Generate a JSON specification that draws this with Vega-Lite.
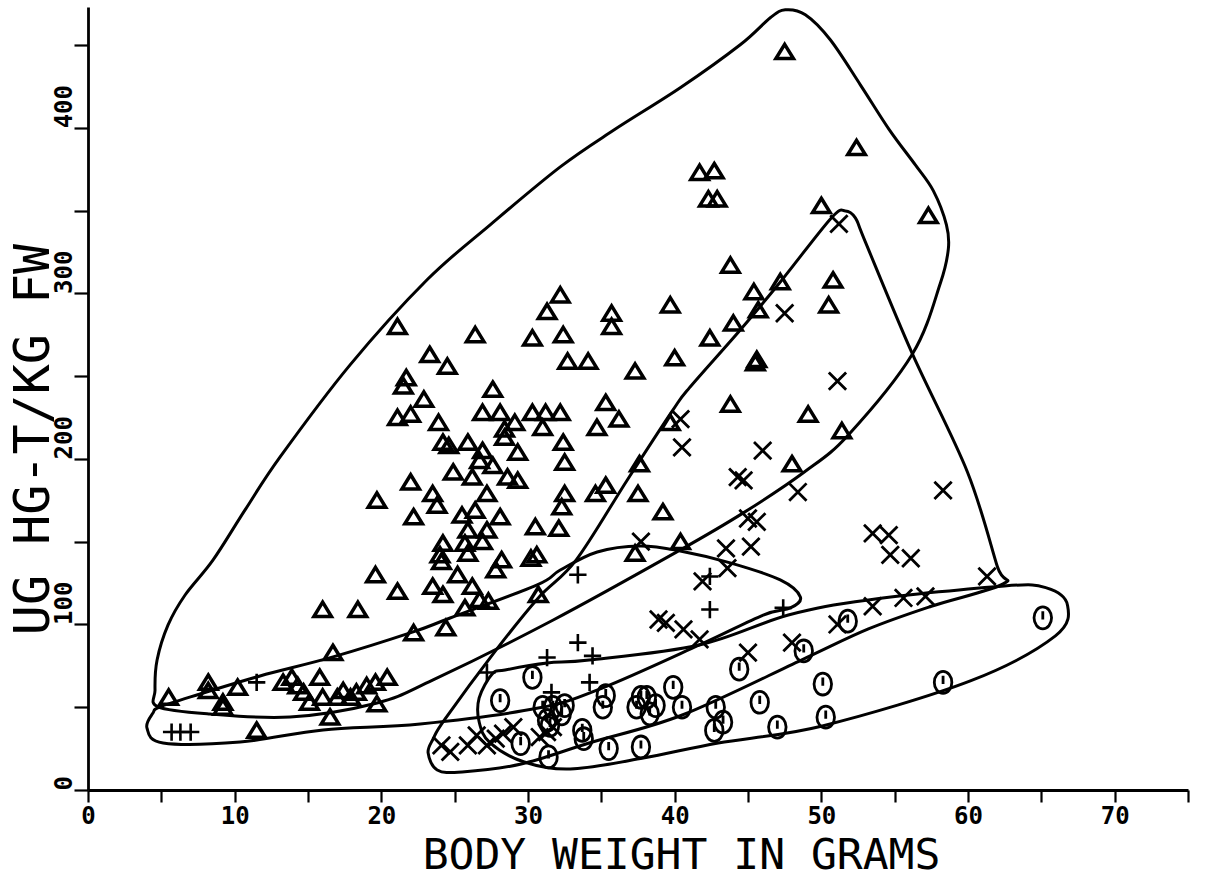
{
 "$schema": "https://vega.github.io/schema/vega-lite/v6.json",
 "width": 1100, "height": 783,
 "autosize": {"type": "none"},
 "padding": {"left": 88, "top": 7, "right": 22, "bottom": 88},
 "background": "white",
 "config": {"view": {"stroke": null}, "axis": {"grid": false, "domainColor": "black", "domainWidth": 2.8, "tickColor": "black", "tickWidth": 2.2, "labelColor": "black", "titleColor": "black", "labelFont": "DejaVu Sans Mono", "labelFontWeight": "bold", "titleFont": "DejaVu Sans Mono", "titleFontWeight": "normal"}},
 "datasets": {
  "hulls": [
   {"h":"A","o":1,"w":4.77,"hg":50.2},{"h":"A","o":2,"w":4.57,"hg":60.4},{"h":"A","o":3,"w":4.71,"hg":78.5},{"h":"A","o":4,"w":5.46,"hg":99.7},{"h":"A","o":5,"w":6.62,"hg":117.8},{"h":"A","o":6,"w":8.53,"hg":139.0},{"h":"A","o":7,"w":10.71,"hg":169.2},{"h":"A","o":8,"w":13.1,"hg":201.2},{"h":"A","o":9,"w":17.87,"hg":256.8},{"h":"A","o":10,"w":23.12,"hg":308.2},{"h":"A","o":11,"w":27.42,"hg":341.4},{"h":"A","o":12,"w":32.2,"hg":376.4},{"h":"A","o":13,"w":35.88,"hg":398.8},{"h":"A","o":14,"w":40.38,"hg":424.2},{"h":"A","o":15,"w":44.47,"hg":450.2},{"h":"A","o":16,"w":46.52,"hg":466.5},{"h":"A","o":17,"w":47.54,"hg":471.3},{"h":"A","o":18,"w":48.91,"hg":468.3},{"h":"A","o":19,"w":50.61,"hg":453.2},{"h":"A","o":20,"w":52.66,"hg":426.0},{"h":"A","o":21,"w":54.64,"hg":398.8},{"h":"A","o":22,"w":56.41,"hg":377.6},{"h":"A","o":23,"w":57.64,"hg":361.9},{"h":"A","o":24,"w":58.53,"hg":341.4},{"h":"A","o":25,"w":58.66,"hg":326.9},{"h":"A","o":26,"w":58.12,"hg":306.3},{"h":"A","o":27,"w":56.21,"hg":263.4},{"h":"A","o":28,"w":51.84,"hg":214.5},{"h":"A","o":29,"w":48.84,"hg":192.1},{"h":"A","o":30,"w":44.68,"hg":167.4},{"h":"A","o":31,"w":40.38,"hg":145.0},{"h":"A","o":32,"w":31.72,"hg":102.7},{"h":"A","o":33,"w":23.53,"hg":66.5},{"h":"A","o":34,"w":19.71,"hg":52.6},{"h":"A","o":35,"w":13.78,"hg":44.1},{"h":"A","o":36,"w":8.32,"hg":45.9},
   {"h":"B","o":1,"w":4.91,"hg":50.2},{"h":"B","o":2,"w":7.64,"hg":58.0},{"h":"B","o":3,"w":11.73,"hg":68.9},{"h":"B","o":4,"w":16.71,"hg":80.4},{"h":"B","o":5,"w":22.17,"hg":95.5},{"h":"B","o":6,"w":24.69,"hg":103.9},{"h":"B","o":7,"w":30.63,"hg":123.9},{"h":"B","o":8,"w":32.2,"hg":132.9},{"h":"B","o":9,"w":34.72,"hg":143.8},{"h":"B","o":10,"w":37.65,"hg":147.4},{"h":"B","o":11,"w":40.38,"hg":144.4},{"h":"B","o":12,"w":43.79,"hg":137.2},{"h":"B","o":13,"w":47.2,"hg":126.9},{"h":"B","o":14,"w":48.57,"hg":116.6},{"h":"B","o":15,"w":47.89,"hg":110.0},{"h":"B","o":16,"w":46.04,"hg":105.7},{"h":"B","o":17,"w":41.68,"hg":87.6},{"h":"B","o":18,"w":35.06,"hg":61.6},{"h":"B","o":19,"w":30.7,"hg":49.5},{"h":"B","o":20,"w":22.65,"hg":39.9},{"h":"B","o":21,"w":16.03,"hg":36.3},{"h":"B","o":22,"w":10.37,"hg":29.0},{"h":"B","o":23,"w":5.12,"hg":28.4},{"h":"B","o":24,"w":4.02,"hg":37.5},{"h":"B","o":25,"w":4.43,"hg":46.5},
   {"h":"C","o":1,"w":23.53,"hg":30.8},{"h":"C","o":2,"w":24.35,"hg":42.9},{"h":"C","o":3,"w":27.83,"hg":84.6},{"h":"C","o":4,"w":30.7,"hg":116.0},{"h":"C","o":5,"w":33.29,"hg":139.0},{"h":"C","o":6,"w":36.77,"hg":187.3},{"h":"C","o":7,"w":39.84,"hg":229.0},{"h":"C","o":8,"w":41.0,"hg":242.9},{"h":"C","o":9,"w":44.47,"hg":277.9},{"h":"C","o":10,"w":47.2,"hg":306.9},{"h":"C","o":11,"w":50.68,"hg":345.6},{"h":"C","o":12,"w":51.64,"hg":349.8},{"h":"C","o":13,"w":52.32,"hg":345.6},{"h":"C","o":14,"w":53.0,"hg":331.1},{"h":"C","o":15,"w":56.21,"hg":263.4},{"h":"C","o":16,"w":59.96,"hg":192.1},{"h":"C","o":17,"w":62.0,"hg":135.0},{"h":"C","o":18,"w":62.4,"hg":124.5},{"h":"C","o":19,"w":57.5,"hg":111.0},{"h":"C","o":20,"w":53.21,"hg":97.3},{"h":"C","o":21,"w":48.64,"hg":78.5},{"h":"C","o":22,"w":40.52,"hg":45.3},{"h":"C","o":23,"w":34.17,"hg":28.4},{"h":"C","o":24,"w":29.54,"hg":15.7},{"h":"C","o":25,"w":25.51,"hg":10.9},{"h":"C","o":26,"w":23.81,"hg":12.1},{"h":"C","o":27,"w":23.19,"hg":22.4},
   {"h":"D","o":1,"w":27.56,"hg":70.1},{"h":"D","o":2,"w":26.67,"hg":55.6},{"h":"D","o":3,"w":26.67,"hg":41.1},{"h":"D","o":4,"w":27.42,"hg":28.4},{"h":"D","o":5,"w":29.74,"hg":16.9},{"h":"D","o":6,"w":32.88,"hg":12.7},{"h":"D","o":7,"w":37.86,"hg":19.3},{"h":"D","o":8,"w":42.97,"hg":28.4},{"h":"D","o":9,"w":50.07,"hg":38.7},{"h":"D","o":10,"w":60.16,"hg":65.9},{"h":"D","o":11,"w":65.96,"hg":93.1},{"h":"D","o":12,"w":66.78,"hg":111.8},{"h":"D","o":13,"w":65.35,"hg":122.1},{"h":"D","o":14,"w":62.48,"hg":123.3},{"h":"D","o":15,"w":53.21,"hg":114.8},{"h":"D","o":16,"w":47.75,"hg":105.7},{"h":"D","o":17,"w":41.68,"hg":87.6},{"h":"D","o":18,"w":34.17,"hg":78.5},{"h":"D","o":19,"w":31.31,"hg":76.7},{"h":"D","o":20,"w":28.44,"hg":72.5}
  ],
  "tri": [
   {"w":32.2,"hg":299},{"w":31.3,"hg":289},{"w":35.7,"hg":288},{"w":35.7,"hg":280},{"w":21.1,"hg":280},{"w":26.4,"hg":275},{"w":30.3,"hg":273},{"w":32.4,"hg":275},{"w":23.3,"hg":263},{"w":24.5,"hg":256},{"w":21.7,"hg":249},{"w":21.5,"hg":244},{"w":32.7,"hg":259},{"w":34.1,"hg":259},{"w":22.9,"hg":236},{"w":21.1,"hg":225},{"w":22.0,"hg":227},{"w":23.9,"hg":222},{"w":27.6,"hg":242},{"w":26.9,"hg":228},{"w":28.1,"hg":228},{"w":29.1,"hg":222},{"w":28.4,"hg":218},{"w":28.4,"hg":213},{"w":30.3,"hg":228},{"w":31.2,"hg":228},{"w":32.2,"hg":228},{"w":31.0,"hg":219},{"w":35.3,"hg":234},{"w":34.7,"hg":219},{"w":36.2,"hg":224},{"w":24.2,"hg":210},{"w":24.6,"hg":208},{"w":25.9,"hg":210},{"w":26.9,"hg":205},{"w":26.7,"hg":199},{"w":27.6,"hg":196},{"w":29.3,"hg":204},{"w":32.4,"hg":210},{"w":32.5,"hg":198},{"w":24.9,"hg":192},{"w":26.2,"hg":189},{"w":28.6,"hg":189},{"w":29.3,"hg":187},{"w":22.0,"hg":186},{"w":23.5,"hg":179},{"w":23.8,"hg":172},{"w":27.2,"hg":179},{"w":19.7,"hg":175},{"w":32.5,"hg":179},{"w":32.3,"hg":171},{"w":34.6,"hg":179},{"w":35.3,"hg":184},{"w":22.2,"hg":165},{"w":25.5,"hg":166},{"w":26.4,"hg":169},{"w":28.1,"hg":165},{"w":25.9,"hg":157},{"w":27.2,"hg":157},{"w":26.9,"hg":150},{"w":30.5,"hg":159},{"w":32.1,"hg":158},{"w":24.2,"hg":149},{"w":24.0,"hg":142},{"w":24.1,"hg":138},{"w":25.7,"hg":149},{"w":25.9,"hg":143},{"w":28.2,"hg":139},{"w":27.8,"hg":133},{"w":30.2,"hg":140},{"w":30.6,"hg":142},{"w":19.6,"hg":130},{"w":21.1,"hg":120},{"w":25.2,"hg":130},{"w":23.5,"hg":123},{"w":24.2,"hg":118},{"w":26.2,"hg":123},{"w":26.7,"hg":115},{"w":27.3,"hg":114},{"w":25.7,"hg":110},{"w":30.7,"hg":118},{"w":16.0,"hg":109},{"w":18.4,"hg":109},
   {"w":47.5,"hg":446},{"w":52.4,"hg":388},{"w":41.7,"hg":373},{"w":42.7,"hg":374},{"w":42.3,"hg":357},{"w":42.9,"hg":357},{"w":50.0,"hg":353},{"w":57.3,"hg":347},{"w":43.8,"hg":317},{"w":45.4,"hg":301},{"w":47.2,"hg":307},{"w":50.8,"hg":308},{"w":50.5,"hg":293},{"w":45.7,"hg":290},{"w":44.0,"hg":282},{"w":42.4,"hg":273},{"w":39.7,"hg":293},{"w":40.0,"hg":261},{"w":37.3,"hg":253},{"w":45.5,"hg":258},{"w":45.6,"hg":260},{"w":43.8,"hg":233},{"w":49.1,"hg":227},{"w":51.4,"hg":217},{"w":48.0,"hg":197},{"w":39.7,"hg":222},{"w":37.6,"hg":197},{"w":37.5,"hg":179},{"w":39.2,"hg":168},{"w":40.4,"hg":150},{"w":37.3,"hg":143},
   {"w":5.5,"hg":56},{"w":8.2,"hg":65},{"w":8.2,"hg":60},{"w":9.2,"hg":53},{"w":9.2,"hg":50},{"w":10.2,"hg":62},{"w":11.5,"hg":36},{"w":13.3,"hg":65},{"w":13.9,"hg":68},{"w":14.3,"hg":63},{"w":14.7,"hg":59},{"w":15.1,"hg":53},{"w":15.8,"hg":68},{"w":16.0,"hg":56},{"w":16.5,"hg":44},{"w":16.7,"hg":83},{"w":17.0,"hg":56},{"w":17.4,"hg":60},{"w":17.9,"hg":56},{"w":18.3,"hg":59},{"w":19.0,"hg":63},{"w":19.6,"hg":65},{"w":19.7,"hg":52},{"w":20.4,"hg":68},{"w":22.2,"hg":95},{"w":24.4,"hg":98}
  ],
  "xs": [
   {"w":51.2,"hg":342},{"w":47.5,"hg":288},{"w":51.1,"hg":247},{"w":40.4,"hg":224},{"w":40.5,"hg":207},{"w":46.0,"hg":205},{"w":44.3,"hg":189},{"w":44.7,"hg":187},{"w":45.0,"hg":164},{"w":45.6,"hg":162},{"w":48.4,"hg":180},{"w":58.3,"hg":181},{"w":45.2,"hg":147},{"w":43.5,"hg":146},{"w":37.7,"hg":150},{"w":43.6,"hg":134},{"w":41.9,"hg":126},{"w":53.5,"hg":155},{"w":54.6,"hg":154},{"w":54.7,"hg":142},{"w":56.1,"hg":140},{"w":61.3,"hg":129},{"w":53.5,"hg":111},{"w":55.6,"hg":116},{"w":57.1,"hg":117},{"w":38.9,"hg":103},{"w":39.4,"hg":101},{"w":40.6,"hg":97},{"w":41.7,"hg":91},{"w":45.0,"hg":83},{"w":48.0,"hg":89},{"w":51.1,"hg":100},{"w":24.1,"hg":27},{"w":24.7,"hg":23},{"w":25.9,"hg":27},{"w":26.5,"hg":33},{"w":27.2,"hg":27},{"w":27.8,"hg":31},{"w":28.3,"hg":34},{"w":29.0,"hg":38},{"w":30.8,"hg":32},{"w":31.3,"hg":35},{"w":31.7,"hg":38}
  ],
  "plus": [
   {"w":5.7,"hg":35},{"w":6.3,"hg":35},{"w":7.0,"hg":35},{"w":11.5,"hg":65},{"w":27.2,"hg":71},{"w":31.3,"hg":80},{"w":34.4,"hg":81},{"w":33.4,"hg":89},{"w":31.6,"hg":59},{"w":34.2,"hg":65},{"w":33.4,"hg":130},{"w":42.4,"hg":129},{"w":42.4,"hg":109},{"w":47.4,"hg":110}
  ],
  "circ": [
   {"w":30.3,"hg":68},{"w":28.1,"hg":54},{"w":31.0,"hg":50},{"w":31.7,"hg":50},{"w":32.5,"hg":51},{"w":32.3,"hg":46},{"w":31.3,"hg":42},{"w":31.5,"hg":39},{"w":33.7,"hg":36},{"w":33.8,"hg":31},{"w":29.5,"hg":28},{"w":31.4,"hg":20},{"w":35.3,"hg":57},{"w":35.1,"hg":50},{"w":35.5,"hg":25},{"w":37.7,"hg":56},{"w":38.1,"hg":56},{"w":37.4,"hg":50},{"w":38.7,"hg":51},{"w":38.3,"hg":46},{"w":39.9,"hg":62},{"w":40.5,"hg":50},{"w":37.7,"hg":26},{"w":42.8,"hg":50},{"w":43.3,"hg":41},{"w":42.7,"hg":36},{"w":44.4,"hg":73},{"w":51.8,"hg":102},{"w":48.8,"hg":84},{"w":65.1,"hg":104},{"w":50.1,"hg":64},{"w":58.3,"hg":65},{"w":45.8,"hg":53},{"w":50.3,"hg":44},{"w":47.0,"hg":38}
  ]
 },
 "encoding": {
  "x": {"field": "w", "type": "quantitative", "scale": {"domain": [0, 75], "nice": false, "zero": false},
   "axis": {"values": [0,5,10,15,20,25,30,35,40,45,50,55,60,65,70,75], "labelExpr": "datum.value % 10 === 0 ? datum.label : ''", "tickSize": 12, "labelPadding": 2, "labelFontSize": 24, "labelBaseline": "top", "labelFlush": false, "labelOverlap": false,
    "title": "BODY WEIGHT IN GRAMS", "titleFontSize": 43, "titleX": 593, "titleY": 78, "titleAlign": "center", "titleBaseline": "alphabetic"}},
  "y": {"field": "hg", "type": "quantitative", "scale": {"domain": [0, 473], "nice": false},
   "axis": {"values": [0,50,100,150,200,250,300,350,400,450], "labelExpr": "datum.value % 100 === 0 ? datum.label : ''", "tickSize": 14, "labelPadding": 3, "labelFontSize": 24, "labelAngle": 270, "labelAlign": "left", "labelBaseline": "alphabetic", "labelFlush": false, "labelOverlap": false,
    "title": "UG HG-T/KG FW", "titleFontSize": 50, "titleAngle": 270, "titleX": -40, "titleY": 432, "titleAlign": "center", "titleBaseline": "alphabetic"}}
 },
 "layer": [
  {"data": {"name": "hulls"}, "mark": {"type": "line", "interpolate": "cardinal-closed", "color": "black", "strokeWidth": 3},
   "encoding": {"detail": {"field": "h"}, "order": {"field": "o", "type": "quantitative"}}},
  {"data": {"name": "tri"}, "mark": {"type": "point", "shape": "M0,-0.8L0.95,0.75L-0.95,0.75Z", "size": 340, "filled": false, "stroke": "black", "strokeWidth": 3.5, "opacity": 1}},
  {"data": {"name": "xs"}, "mark": {"type": "point", "shape": "M-1,-1L1,1M-1,1L1,-1", "size": 300, "filled": false, "stroke": "black", "strokeWidth": 2.8, "opacity": 1}},
  {"data": {"name": "plus"}, "mark": {"type": "point", "shape": "M-1,0L1,0M0,-1L0,1", "size": 300, "filled": false, "stroke": "black", "strokeWidth": 2.6, "opacity": 1}},
  {"data": {"name": "circ"}, "mark": {"type": "point", "shape": "M-0.8,0A0.8,1,0,1,0,0.8,0A0.8,1,0,1,0,-0.8,0M0,-0.6L0,0.15", "size": 480, "filled": false, "stroke": "black", "strokeWidth": 2.8, "opacity": 1}}
 ]
}
